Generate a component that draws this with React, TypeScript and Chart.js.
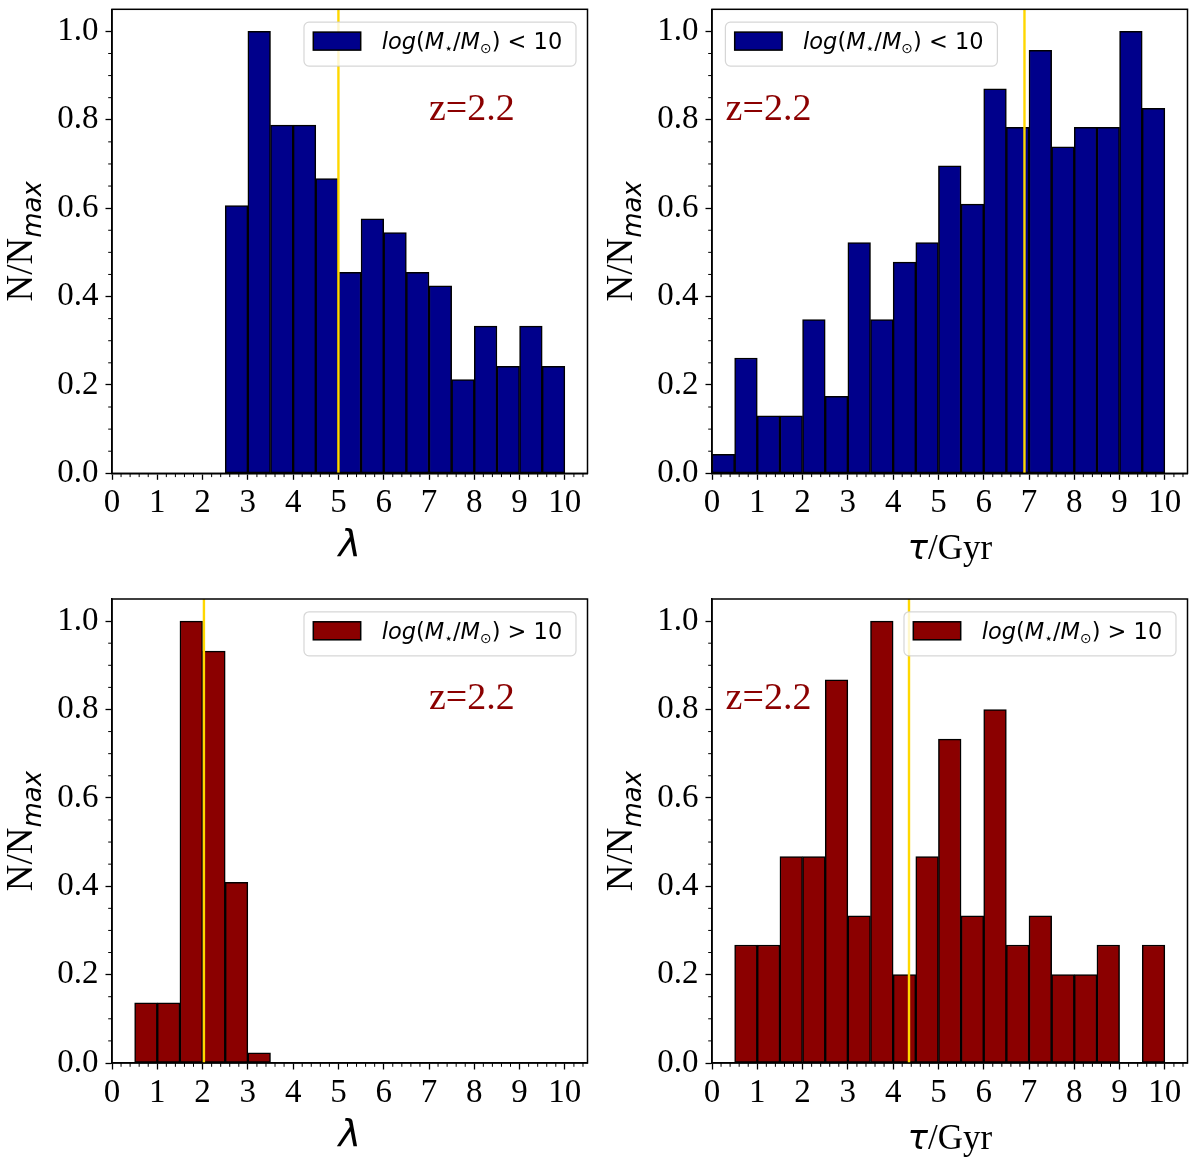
import { useEffect, useRef } from 'react';
import { Chart, registerables } from 'chart.js';

Chart.register(...registerables);

// histogram bins of width 0.5 between 0 and 10
const binCenters = [0.25, 0.75, 1.25, 1.75, 2.25, 2.75, 3.25, 3.75, 4.25, 4.75,
  5.25, 5.75, 6.25, 6.75, 7.25, 7.75, 8.25, 8.75, 9.25, 9.75];

// N/Nmax per bin
const lambdaLowMass = [0, 0, 0, 0, 0, 0.606, 1.0, 0.788, 0.788, 0.667,
  0.455, 0.576, 0.545, 0.455, 0.424, 0.212, 0.333, 0.242, 0.333, 0.242];
const tauLowMass = [0.043, 0.261, 0.13, 0.13, 0.348, 0.174, 0.522, 0.348, 0.478, 0.522,
  0.696, 0.609, 0.87, 0.783, 0.957, 0.739, 0.783, 0.783, 1.0, 0.826];
const lambdaHighMass = [0, 0.136, 0.136, 1.0, 0.932, 0.409, 0.023, 0, 0, 0,
  0, 0, 0, 0, 0, 0, 0, 0, 0, 0];
const tauHighMass = [0, 0.267, 0.267, 0.467, 0.467, 0.867, 0.333, 1.0, 0.2, 0.467,
  0.733, 0.333, 0.8, 0.267, 0.333, 0.2, 0.2, 0.267, 0, 0.267];

// median markers (gold lines)
const lambdaLowMedian = 5.0;
const tauLowMedian = 6.9;
const lambdaHighMedian = 2.03;
const tauHighMedian = 4.35;

const xMin = 0;
const xMax = 10.5;
const yMin = 0;
const yMax = 1.05;
const xTickStep = 1;
const yTickStep = 0.2;

const redshiftText = 'z=2.2';

const SERIF = '"Liberation Serif", "Times New Roman", serif';
const SANS = '"DejaVu Sans", sans-serif';

interface PanelProps {
  values: number[];
  median: number;
  color: string;
  relation: string;
  xTitle: 'lambda' | 'tau';
  legendLeft: boolean;
  zX: number;
  left: number;
  top: number;
  height: number;
  padTop: number;
}

function Panel({ values, median, color, relation, xTitle, legendLeft, zX, left, top, height, padTop }: PanelProps) {
  const chartRef = useRef<HTMLCanvasElement>(null);
  const chartInstance = useRef<Chart | null>(null);

  useEffect(() => {
    if (!chartRef.current) return;
    if (chartInstance.current) chartInstance.current.destroy();
    const ctx = chartRef.current.getContext('2d');
    if (!ctx) return;

    const bottomSpace = height - padTop - 464;

    const decor = {
      id: 'decor',
      afterDatasetsDraw(chart: Chart) {
        const c = chart.ctx;
        const area = chart.chartArea;
        const xs = chart.scales.x;
        const ys = chart.scales.y;
        c.save();

        // redshift annotation
        c.fillStyle = '#8b0000';
        c.font = `38px ${SERIF}`;
        c.textAlign = 'left';
        c.textBaseline = 'alphabetic';
        c.fillText(redshiftText, xs.getPixelForValue(zX), ys.getPixelForValue(0.8));

        // legend
        const bw = 272;
        const bh = 44;
        const bx = legendLeft ? area.left + 13.4 : area.right - 11.5 - bw;
        const by = area.top + 12.8;
        c.beginPath();
        c.roundRect(bx, by, bw, bh, 5);
        c.fillStyle = 'rgba(255,255,255,0.8)';
        c.fill();
        c.strokeStyle = 'rgba(204,204,204,0.8)';
        c.lineWidth = 1.2;
        c.stroke();
        c.fillStyle = color;
        c.fillRect(bx + 9.3, by + 10, 47.4, 18);
        c.strokeStyle = '#000';
        c.lineWidth = 1.5;
        c.strokeRect(bx + 9.3, by + 10, 47.4, 18);

        const f = 22.5;
        const sub = 14;
        const parts: [string, string, number][] = [
          ['log', `italic ${f}px ${SANS}`, 0],
          ['(', `${f}px ${SANS}`, 0],
          ['M', `italic ${f}px ${SANS}`, 0],
          ['\u22c6', `${sub}px ${SANS}`, 4],
          ['/', `${f}px ${SANS}`, 0],
          ['M', `italic ${f}px ${SANS}`, 0],
          ['\u2299', `${sub}px ${SANS}`, 4],
          [')', `${f}px ${SANS}`, 0],
          [` ${relation} `, `${f}px ${SANS}`, 0],
          ['10', `${f}px ${SANS}`, 0],
        ];
        let tx = bx + 77.7;
        const ty = by + 27.3;
        c.fillStyle = '#000';
        parts.forEach(([t, font, dy]) => {
          c.font = font;
          c.fillText(t, tx, ty + dy);
          tx += c.measureText(t).width;
        });
        c.restore();
      },
      afterDraw(chart: Chart) {
        const c = chart.ctx;
        const area = chart.chartArea;
        const xs = chart.scales.x;
        const ys = chart.scales.y;
        c.save();
        c.strokeStyle = '#000';

        // minor ticks
        c.lineWidth = 1;
        c.beginPath();
        for (let i = 1; i * 0.2 < xMax; i++) {
          if (i % 5 === 0) continue;
          const px = xs.getPixelForValue(i * 0.2);
          c.moveTo(px, area.bottom);
          c.lineTo(px, area.bottom + 3.8);
        }
        for (let i = 1; i <= 20; i++) {
          if (i % 4 === 0) continue;
          const py = ys.getPixelForValue(i * 0.05);
          c.moveTo(area.left - 3.8, py);
          c.lineTo(area.left, py);
        }
        c.stroke();

        // frame
        c.lineWidth = 1.5;
        c.strokeRect(area.left, area.top, area.right - area.left, area.bottom - area.top);

        // x title
        c.fillStyle = '#000';
        c.textBaseline = 'alphabetic';
        const cx = (area.left + area.right) / 2;
        if (xTitle === 'lambda') {
          c.font = `italic 38px ${SANS}`;
          c.textAlign = 'center';
          c.fillText('\u03bb', cx, area.bottom + 83);
        } else {
          c.textAlign = 'left';
          c.font = `italic 34px ${SANS}`;
          const w1 = c.measureText('\u03c4').width;
          c.font = `35px ${SERIF}`;
          const w2 = c.measureText('/Gyr').width;
          const x0 = cx - (w1 + w2) / 2;
          c.font = `italic 34px ${SANS}`;
          c.fillText('\u03c4', x0, area.bottom + 85.6);
          c.font = `35px ${SERIF}`;
          c.fillText('/Gyr', x0 + w1, area.bottom + 85.6);
        }

        // y title N/N_max, rotated
        c.translate(31.7, (area.top + area.bottom) / 2);
        c.rotate(-Math.PI / 2);
        c.textAlign = 'left';
        c.font = `37px ${SERIF}`;
        const a = c.measureText('N/N').width;
        c.font = `italic 26px ${SANS}`;
        const b = c.measureText('max').width;
        c.font = `37px ${SERIF}`;
        c.fillText('N/N', -(a + b) / 2, 0);
        c.font = `italic 26px ${SANS}`;
        c.fillText('max', -(a + b) / 2 + a, 9);
        c.restore();
      },
    };

    chartInstance.current = new Chart(ctx, {
      type: 'bar',
      data: {
        datasets: [
          {
            type: 'line',
            data: [{ x: median, y: yMin }, { x: median, y: yMax }],
            borderColor: '#ffd700',
            borderWidth: 2.4,
            pointRadius: 0,
            order: 0,
          },
          {
            type: 'bar',
            data: binCenters.map((x, i) => ({ x, y: values[i] })),
            backgroundColor: color,
            borderColor: '#000',
            borderWidth: 1.5,
            borderSkipped: false,
            barPercentage: 1,
            categoryPercentage: 1,
            order: 1,
          },
        ] as any,
      },
      options: {
        responsive: false,
        animation: false,
        layout: { padding: { left: 0, top: padTop, right: 12.5, bottom: 0 } },
        plugins: {
          legend: { display: false },
          tooltip: { enabled: false },
        },
        scales: {
          x: {
            type: 'linear',
            min: xMin,
            max: xMax,
            offset: false,
            afterFit: (s: any) => {
              s.height = bottomSpace;
              s.paddingLeft = 0;
              s.paddingRight = 0;
            },
            ticks: {
              stepSize: xTickStep,
              includeBounds: false,
              autoSkip: false,
              maxRotation: 0,
              color: '#000',
              padding: 4,
              font: { family: SERIF, size: 33 },
              callback: (v: any) => String(v),
            },
            grid: {
              display: true,
              drawOnChartArea: false,
              drawTicks: true,
              tickLength: 6.5,
              tickWidth: 1.3,
              tickColor: '#000',
              offset: false,
            },
            border: { display: true, color: '#000', width: 1.5 },
          },
          y: {
            type: 'linear',
            min: yMin,
            max: yMax,
            afterFit: (s: any) => {
              s.width = 112;
              s.paddingTop = 0;
              s.paddingBottom = 0;
            },
            ticks: {
              stepSize: yTickStep,
              includeBounds: false,
              color: '#000',
              padding: 7,
              font: { family: SERIF, size: 33 },
              callback: (v: any) => Number(v).toFixed(1),
            },
            grid: {
              display: true,
              drawOnChartArea: false,
              drawTicks: true,
              tickLength: 6.5,
              tickWidth: 1.3,
              tickColor: '#000',
            },
            border: { display: true, color: '#000', width: 1.5 },
          },
        },
      },
      plugins: [decor],
    });

    return () => {
      if (chartInstance.current) {
        chartInstance.current.destroy();
        chartInstance.current = null;
      }
    };
  }, [values, median, color, relation, xTitle, legendLeft, zX, height, padTop]);

  return (
    <canvas
      ref={chartRef}
      width={600}
      height={height}
      style={{ position: 'absolute', left, top, width: 600, height }}
    />
  );
}

export default function App() {
  return (
    <div style={{ position: 'absolute', left: 0, top: 0, width: 1200, height: 1159, background: '#fff' }}>
      <Panel values={lambdaLowMass} median={lambdaLowMedian} color="#00008b" relation="<"
        xTitle="lambda" legendLeft={false} zX={7.0} left={0} top={0} height={580} padTop={9.3} />
      <Panel values={tauLowMass} median={tauLowMedian} color="#00008b" relation="<"
        xTitle="tau" legendLeft={true} zX={0.3} left={600} top={0} height={580} padTop={9.3} />
      <Panel values={lambdaHighMass} median={lambdaHighMedian} color="#8b0000" relation=">"
        xTitle="lambda" legendLeft={false} zX={7.0} left={0} top={580} height={579} padTop={19} />
      <Panel values={tauHighMass} median={tauHighMedian} color="#8b0000" relation=">"
        xTitle="tau" legendLeft={false} zX={0.3} left={600} top={580} height={579} padTop={19} />
    </div>
  );
}
